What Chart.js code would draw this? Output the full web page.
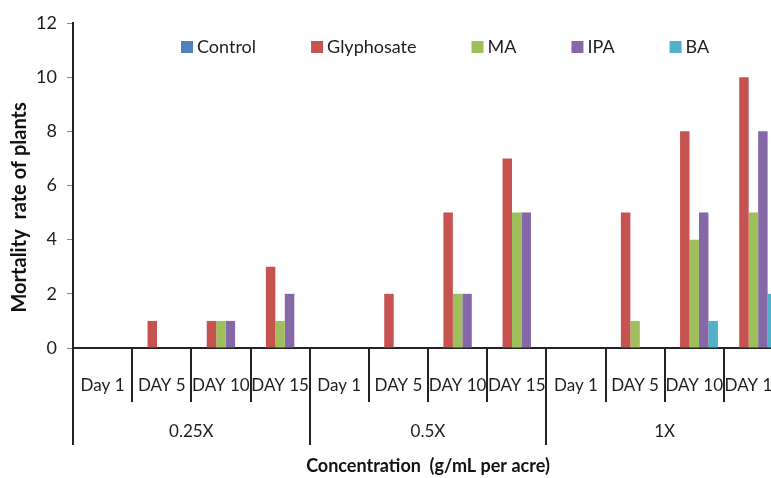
<!DOCTYPE html>
<html>
<head>
<meta charset="utf-8">
<script src="https://cdn.jsdelivr.net/npm/chart.js@4/dist/chart.umd.min.js"></script>
<style>
  html, body { margin: 0; padding: 0; background: #fff; overflow: hidden; width: 771px; height: 478px; }
  #wrap { width: 790px; height: 478px; }
</style>
</head>
<body>
<div id="wrap"><canvas id="c" width="790" height="478"></canvas></div>
<script>
const categories = ['Day 1', 'DAY 5', 'DAY 10', 'DAY 15', 'Day 1', 'DAY 5', 'DAY 10', 'DAY 15', 'Day 1', 'DAY 5', 'DAY 10', 'DAY 15'];
const groups = ['0.25X', '0.5X', '1X'];
const seriesNames = ['Control', 'Glyphosate', 'MA', 'IPA', 'BA'];
const control    = [0, 0, 0, 0, 0, 0, 0, 0, 0, 0, 0, 0];
const glyphosate = [0, 1, 1, 3, 0, 2, 5, 7, 0, 5, 8, 10];
const ma         = [0, 0, 1, 1, 0, 0, 2, 5, 0, 1, 4, 5];
const ipa        = [0, 0, 1, 2, 0, 0, 2, 5, 0, 0, 5, 8];
const ba         = [0, 0, 0, 0, 0, 0, 0, 0, 0, 0, 1, 2];
const yTicks = [0, 2, 4, 6, 8, 10, 12];

const colors = ['#4F81BD', '#C65350', '#9FBE5C', '#8568A8', '#4FB1CA'];
const FONT = 'Lato';
const TEXT = '#1e1e1e';
const LINE = '#222';

const values = [control, glyphosate, ma, ipa, ba];

const extrasPlugin = {
  id: 'extras',
  afterDraw(chart) {
    const ctx = chart.ctx;
    const xs = chart.scales.x;
    const ys = chart.scales.y;
    const n = categories.length;
    const w = (xs.right - xs.left) / n;
    const base = ys.getPixelForValue(0);
    ctx.save();
    ctx.strokeStyle = LINE;
    ctx.lineWidth = 2;
    for (let i = 0; i <= n; i++) {
      const x = Math.round(xs.left + i * w);
      const isGroup = i % 4 === 0;
      ctx.beginPath();
      ctx.moveTo(x, base);
      ctx.lineTo(x, base + (isGroup ? 97 : 54));
      ctx.stroke();
    }
    ctx.fillStyle = TEXT;
    ctx.font = '17px ' + FONT;
    ctx.textAlign = 'center';
    ctx.textBaseline = 'middle';
    groups.forEach((g, gi) => {
      const cx = xs.left + (gi * 4 + 2) * w;
      ctx.fillText(g, cx, base + 84);
    });
    ctx.font = '18px ' + FONT;
    ctx.textAlign = 'left';
    let lx = 181;
    const ly = 47;
    chart.data.datasets.forEach((ds) => {
      ctx.fillStyle = ds.backgroundColor;
      ctx.fillRect(lx, ly - 6, 12, 12);
      ctx.fillStyle = TEXT;
      ctx.fillText(ds.label, lx + 16, ly);
      lx += 16 + ctx.measureText(ds.label).width + 55;
    });
    ctx.restore();
  }
};

new Chart(document.getElementById('c'), {
  type: 'bar',
  data: {
    labels: categories,
    datasets: seriesNames.map((name, i) => ({
      label: name,
      data: values[i],
      backgroundColor: colors[i],
      borderWidth: 0,
      barPercentage: 1.0,
      categoryPercentage: 0.8
    }))
  },
  options: {
    responsive: false,
    animation: false,
    events: [],
    layout: { padding: { top: 23, right: 7, left: 0, bottom: 0 } },
    plugins: {
      legend: { display: false },
      tooltip: { enabled: false },
      title: { display: false }
    },
    scales: {
      x: {
        offset: true,
        grid: { display: true, drawOnChartArea: false, drawTicks: false },
        border: { display: true, color: LINE, width: 2 },
        ticks: {
          autoSkip: false, maxRotation: 0, minRotation: 0,
          padding: 27, color: TEXT, font: { family: FONT, size: 17 }
        },
        title: {
          display: true,
          text: 'Concentration  (g/mL per acre)',
          color: '#111',
          font: { family: FONT, size: 18, weight: 'bold' },
          padding: { top: 0, bottom: 1 }
        },
        afterFit(scale) { scale.height = 130; scale.paddingLeft = 0; scale.paddingRight = 0; }
      },
      y: {
        min: 0, max: 12,
        afterBuildTicks(scale) { scale.ticks = yTicks.map(v => ({ value: v })); },
        grid: { display: true, drawOnChartArea: false, drawTicks: true, tickLength: 6, color: '#888', lineWidth: 1 },
        border: { display: true, color: LINE, width: 2 },
        ticks: { padding: 10, color: TEXT, font: { family: FONT, size: 18 } },
        title: {
          display: true,
          text: 'Mortality  rate of plants         ',
          color: '#111',
          font: { family: FONT, size: 20, weight: 'bold' },
          padding: { top: 8, bottom: 0 }
        },
        afterFit(scale) { scale.width = 73; scale.paddingTop = 0; scale.paddingBottom = 0; }
      }
    }
  },
  plugins: [extrasPlugin]
});
</script>
</body>
</html>
